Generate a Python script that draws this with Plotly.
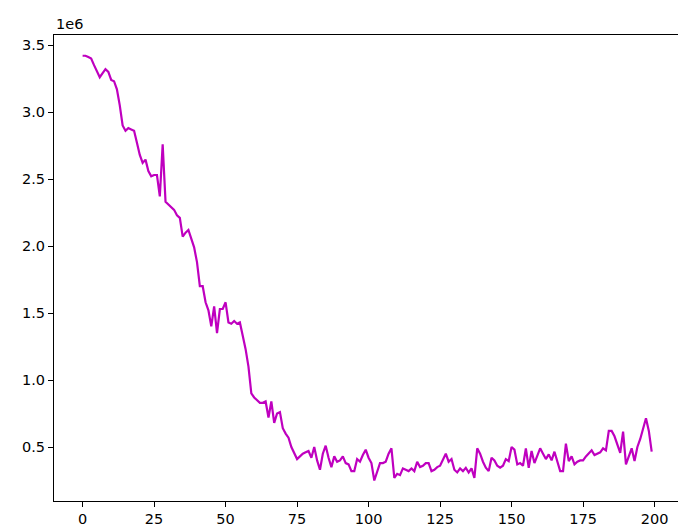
import plotly.graph_objects as go

values = [
    3.42, 3.42, 3.41, 3.40, 3.35, 3.30, 3.26, 3.29, 3.32, 3.30,
    3.24, 3.23, 3.17, 3.05, 2.90, 2.86, 2.88, 2.87, 2.86, 2.77,
    2.68, 2.62, 2.645, 2.56, 2.52, 2.53, 2.53, 2.37, 2.76, 2.33,
    2.31, 2.29, 2.27, 2.23, 2.21, 2.07, 2.10, 2.12, 2.05, 1.99,
    1.88, 1.70, 1.70, 1.58, 1.52, 1.40, 1.55, 1.35, 1.53, 1.53,
    1.58, 1.43, 1.42, 1.44, 1.42, 1.43, 1.33, 1.23, 1.10, 0.90,
    0.87, 0.85, 0.83, 0.83, 0.84, 0.72, 0.84, 0.68, 0.75, 0.76,
    0.64, 0.60, 0.57, 0.50, 0.45, 0.41, 0.43, 0.45, 0.46, 0.47,
    0.42, 0.50, 0.40, 0.33, 0.45, 0.51, 0.42, 0.35, 0.43, 0.39,
    0.40, 0.43, 0.38, 0.37, 0.32, 0.32, 0.41, 0.39, 0.44, 0.48,
    0.42, 0.38, 0.25, 0.32, 0.38, 0.38, 0.39, 0.45, 0.49, 0.27,
    0.30, 0.29, 0.34, 0.33, 0.32, 0.34, 0.32, 0.39, 0.35, 0.36,
    0.38, 0.38, 0.32, 0.33, 0.35, 0.36, 0.40, 0.45, 0.39, 0.41,
    0.33, 0.31, 0.34, 0.32, 0.345, 0.31, 0.34, 0.27, 0.49, 0.45,
    0.39, 0.345, 0.32, 0.42, 0.40, 0.36, 0.345, 0.36, 0.41, 0.395,
    0.50, 0.48, 0.37, 0.38, 0.36, 0.49, 0.345, 0.47, 0.38, 0.43,
    0.49, 0.45, 0.41, 0.445, 0.40, 0.465, 0.40, 0.32, 0.32, 0.525,
    0.395, 0.43, 0.37, 0.39, 0.40, 0.40, 0.43, 0.45, 0.475, 0.44,
    0.45, 0.46, 0.49, 0.475, 0.62, 0.62, 0.58, 0.52, 0.457, 0.615,
    0.37, 0.43, 0.49, 0.395, 0.50, 0.56, 0.64, 0.715, 0.62, 0.465,
]
steps = list(range(len(values)))
y_vals = [v * 1e6 for v in values]

x_ticks = [0, 25, 50, 75, 100, 125, 150, 175, 200]
y_ticks = [0.5e6, 1.0e6, 1.5e6, 2.0e6, 2.5e6, 3.0e6, 3.5e6]
y_tick_text = ["0.5", "1.0", "1.5", "2.0", "2.5", "3.0", "3.5"]

fig = go.Figure()
fig.add_trace(go.Scatter(x=steps, y=y_vals, mode="lines",
                         line=dict(color="#bf00bf", width=2.2)))

font = dict(family="DejaVu Sans", size=14.5, color="black")
fig.update_layout(
    width=678, height=531,
    margin=dict(l=54, r=0, t=35, b=30),
    paper_bgcolor="white", plot_bgcolor="white",
    showlegend=False,
    font=font,
    xaxis=dict(range=[-10.0, 208.2], tickvals=x_ticks, ticks="outside",
               ticklen=5, tickcolor="black", showgrid=False, zeroline=False,
               showline=True, linecolor="black", linewidth=1.1, mirror=True,
               tickfont=font),
    yaxis=dict(range=[0.097e6, 3.575e6], tickvals=y_ticks, ticktext=y_tick_text,
               ticks="outside", ticklen=5, tickcolor="black", showgrid=False,
               zeroline=False, showline=True, linecolor="black", linewidth=1.1,
               mirror=False, tickfont=font),
    annotations=[dict(text="1e6", xref="paper", yref="paper", x=0, y=1,
                      xanchor="left", yanchor="bottom", yshift=1,
                      showarrow=False, font=font)],
)
fig.write_html("out.html")
